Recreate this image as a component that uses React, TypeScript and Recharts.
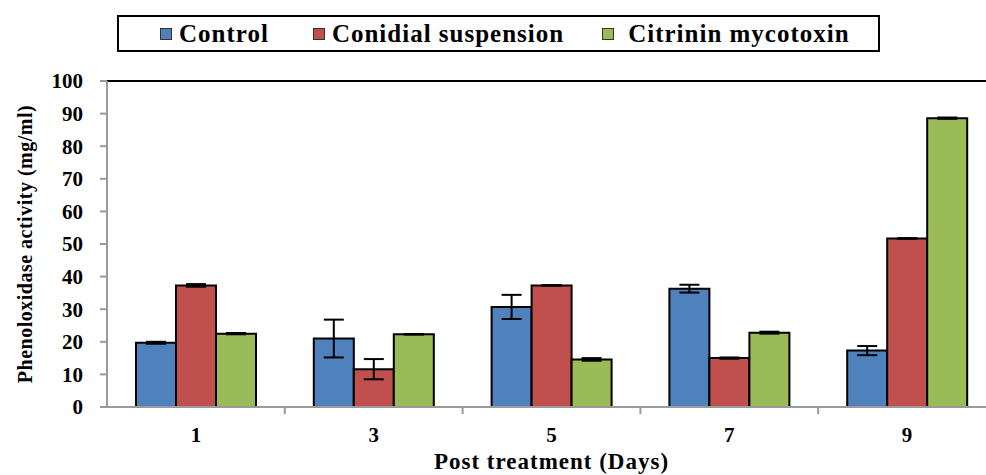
import { BarChart, Bar, XAxis, YAxis, ErrorBar, ReferenceLine } from "recharts";

// Phenoloxidase activity by day after treatment
const days = ["1", "3", "5", "7", "9"];
const controlValues = [19.7, 21.0, 30.7, 36.3, 17.3];
const controlErrors = [0.3, 5.8, 3.7, 1.2, 1.4];
const conidialValues = [37.3, 11.6, 37.3, 15.0, 51.7];
const conidialErrors = [0.4, 3.1, 0.1, 0.2, 0.1];
const citrininValues = [22.5, 22.3, 14.6, 22.8, 88.6];
const citrininErrors = [0.2, 0.1, 0.4, 0.3, 0.2];
const yTicks = [0, 10, 20, 30, 40, 50, 60, 70, 80, 90, 100];

const series = [
  { key: "control", name: "Control", color: "#4F81BD" },
  { key: "conidial", name: "Conidial suspension", color: "#C0504D" },
  { key: "citrinin", name: "Citrinin mycotoxin", color: "#9BBB59" },
];

const data = days.map((day, i) => ({
  day,
  control: controlValues[i],
  controlErr: controlErrors[i],
  conidial: conidialValues[i],
  conidialErr: conidialErrors[i],
  citrinin: citrininValues[i],
  citrininErr: citrininErrors[i],
}));

const FONT = "'Liberation Serif', 'Times New Roman', serif";
const AXIS_GREY = "#9a9a9a";

const CHART_W = 1000;
const CHART_H = 475;
const MARGIN = { top: 81, right: 4, bottom: 0, left: 0 };
const Y_AXIS_W = 107;
const X_AXIS_H = 68;

function XTick(props: any) {
  const { x, y, payload, index } = props;
  const plotW = CHART_W - MARGIN.left - MARGIN.right - Y_AXIS_W;
  const half = payload?.offset || plotW / days.length / 2;
  return (
    <g>
      {index > 0 && (
        <line
          x1={x - half}
          x2={x - half}
          y1={y}
          y2={y + 7}
          stroke={AXIS_GREY}
          strokeWidth={2}
        />
      )}
      <text
        x={x}
        y={y + 35}
        textAnchor="middle"
        fontFamily={FONT}
        fontWeight="bold"
        fontSize={21}
        fill="#000"
      >
        {payload.value}
      </text>
    </g>
  );
}

function XLabel(props: any) {
  const { viewBox } = props;
  return (
    <text
      x={viewBox.x + viewBox.width / 2}
      y={viewBox.y + 62}
      textAnchor="middle"
      fontFamily={FONT}
      fontWeight="bold"
      fontSize={23}
      letterSpacing={1}
      fill="#000"
    >
      Post treatment (Days)
    </text>
  );
}

function YLabel(props: any) {
  const { viewBox } = props;
  const cx = 32;
  const cy = viewBox.y + viewBox.height / 2;
  return (
    <text
      x={cx}
      y={cy}
      transform={`rotate(-90, ${cx}, ${cy})`}
      textAnchor="middle"
      fontFamily={FONT}
      fontWeight="bold"
      fontSize={20}
      letterSpacing={0.5}
      fill="#000"
    >
      Phenoloxidase activity (mg/ml)
    </text>
  );
}

function LegendBox() {
  return (
    <div
      style={{
        position: "absolute",
        left: 117,
        top: 15,
        width: 763,
        height: 37,
        border: "2px solid #000",
        display: "flex",
        alignItems: "center",
        paddingLeft: 41,
        boxSizing: "border-box",
        fontFamily: FONT,
        fontWeight: "bold",
        fontSize: 25,
        letterSpacing: 1,
        whiteSpace: "nowrap",
        background: "#fff",
      }}
    >
      {series.map((s, i) => (
        <div
          key={s.key}
          style={{
            display: "flex",
            alignItems: "center",
            marginRight: i === 0 ? 44 : 38,
          }}
        >
          <span
            style={{
              display: "inline-block",
              width: 10,
              height: 10,
              background: s.color,
              border: "1px solid #333",
              marginRight: i === 2 ? 14 : 7,
            }}
          />
          <span>{s.name}</span>
        </div>
      ))}
    </div>
  );
}

export default function App() {
  return (
    <div
      style={{
        position: "absolute",
        left: 0,
        top: 0,
        width: 986,
        height: 475,
        overflow: "hidden",
        background: "#fff",
      }}
    >
      <LegendBox />
      <BarChart
        width={CHART_W}
        height={CHART_H}
        data={data}
        margin={MARGIN}
        barGap={0}
        barSize={40}
      >
        <YAxis
          width={Y_AXIS_W}
          domain={[0, 100]}
          ticks={yTicks}
          interval={0}
          allowDataOverflow
          axisLine={{ stroke: AXIS_GREY, strokeWidth: 2 }}
          tickLine={{ stroke: AXIS_GREY, strokeWidth: 2 }}
          tickSize={7}
          tickMargin={17}
          tick={{
            fontFamily: FONT,
            fontWeight: "bold",
            fontSize: 21,
            fill: "#000",
          }}
          label={{ content: YLabel }}
        />
        <XAxis
          dataKey="day"
          height={X_AXIS_H}
          axisLine={{ stroke: AXIS_GREY, strokeWidth: 2 }}
          tickLine={false}
          tickSize={0}
          tickMargin={0}
          interval={0}
          tick={<XTick />}
          label={{ content: XLabel }}
        />
        <ReferenceLine y={100} stroke="#000" strokeWidth={2} />
        {series.map((s) => (
          <Bar
            key={s.key}
            dataKey={s.key}
            name={s.name}
            fill={s.color}
            stroke="#000"
            strokeWidth={2}
            isAnimationActive={false}
          >
            <ErrorBar
              dataKey={`${s.key}Err`}
              width={10}
              stroke="#000"
              strokeWidth={2}
              direction="y"
            />
          </Bar>
        ))}
      </BarChart>
    </div>
  );
}
